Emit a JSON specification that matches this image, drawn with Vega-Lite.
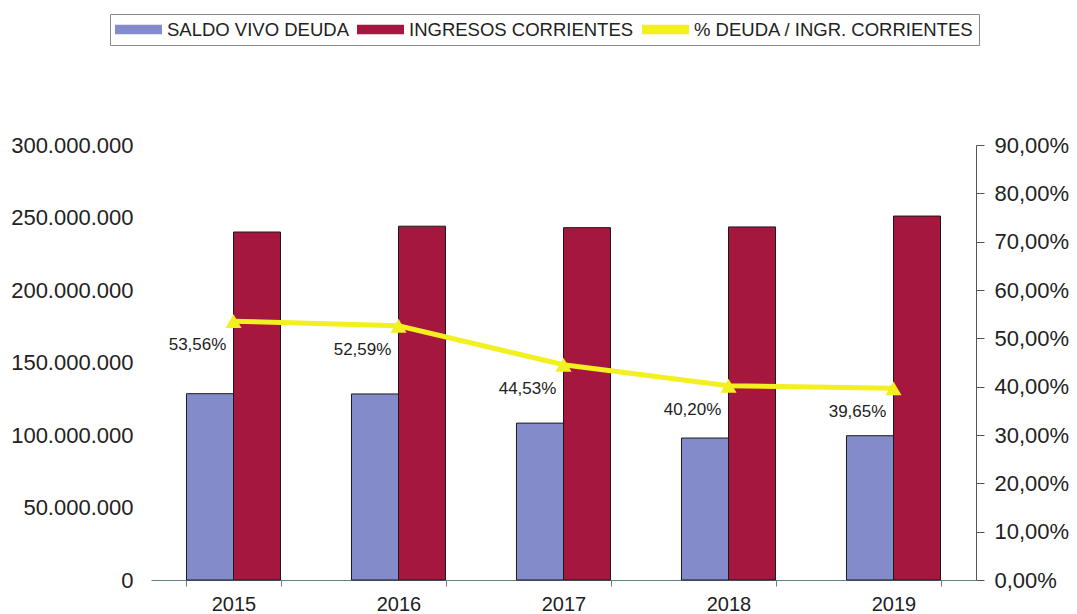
{
  "$schema": "https://vega.github.io/schema/vega-lite/v6.json",
  "autosize": {"type": "none"},
  "width": 825,
  "height": 435,
  "padding": {"left": 151, "top": 145, "right": 101, "bottom": 34},
  "background": "white",
  "config": {
    "locale": {"number": {"decimal": ",", "thousands": ".", "grouping": [3], "currency": ["", " €"]}},
    "view": {"stroke": null},
    "font": "Liberation Sans",
    "axis": {"labelFont": "Liberation Sans", "labelFontSize": 22, "labelColor": "#222", "grid": false, "title": null}
  },
  "datasets": {
    "bars": [
      {"anio": "2015", "serie": "SALDO VIVO DEUDA", "valor": 128500000},
      {"anio": "2015", "serie": "INGRESOS CORRIENTES", "valor": 240000000},
      {"anio": "2016", "serie": "SALDO VIVO DEUDA", "valor": 128300000},
      {"anio": "2016", "serie": "INGRESOS CORRIENTES", "valor": 244000000},
      {"anio": "2017", "serie": "SALDO VIVO DEUDA", "valor": 108200000},
      {"anio": "2017", "serie": "INGRESOS CORRIENTES", "valor": 243000000},
      {"anio": "2018", "serie": "SALDO VIVO DEUDA", "valor": 97900000},
      {"anio": "2018", "serie": "INGRESOS CORRIENTES", "valor": 243500000},
      {"anio": "2019", "serie": "SALDO VIVO DEUDA", "valor": 99500000},
      {"anio": "2019", "serie": "INGRESOS CORRIENTES", "valor": 251000000}
    ],
    "pct": [
      {"anio": "2015", "pct": 0.5356},
      {"anio": "2016", "pct": 0.5259},
      {"anio": "2017", "pct": 0.4453},
      {"anio": "2018", "pct": 0.4020},
      {"anio": "2019", "pct": 0.3965}
    ]
  },
  "encoding": {
    "x": {
      "field": "anio", "type": "nominal",
      "scale": {"paddingInner": 0.43, "paddingOuter": 0.215},
      "axis": {"labelAngle": 0, "labelFontSize": 20, "domainColor": "#5f7f8f", "tickColor": "#5f7f8f", "tickSize": 6, "labelPadding": 8, "tickBand": "extent"}
    }
  },
  "layer": [
    {
      "data": {"name": "bars"},
      "mark": {"type": "bar", "stroke": "#1a1a1a", "strokeWidth": 1},
      "encoding": {
        "xOffset": {"field": "serie", "type": "nominal", "sort": ["SALDO VIVO DEUDA", "INGRESOS CORRIENTES"], "scale": {"paddingInner": 0}},
        "y": {
          "field": "valor", "type": "quantitative",
          "scale": {"domain": [0, 300000000]},
          "axis": {"values": [0, 50000000, 100000000, 150000000, 200000000, 250000000, 300000000], "format": ",d", "domain": false, "ticks": false, "labelPadding": 18}
        },
        "color": {
          "field": "serie", "type": "nominal",
          "scale": {"domain": ["SALDO VIVO DEUDA", "INGRESOS CORRIENTES", "% DEUDA / INGR. CORRIENTES"], "range": ["#838bcb", "#a5173f", "#f2f01e"]},
          "legend": {
            "orient": "none", "legendX": -41, "legendY": -131,
            "direction": "horizontal", "title": null,
            "labelFont": "Liberation Sans", "labelFontSize": 18.5, "labelColor": "#222", "labelLimit": 0,
            "symbolSize": 2209, "symbolType": "M-1,-0.2H1V0.2H-1Z",
            "clipHeight": 21, "labelOffset": 5, "columnPadding": 8,
            "padding": 5, "strokeColor": "#8a8a8a", "fillColor": "white",
            "symbolStrokeWidth": 0,
            "encode": {
              "symbols": {"update": {
                "fill": {"scale": "color", "field": "value"},
                "fillOpacity": {"value": 1},
                "shape": {"signal": "datum.value === '% DEUDA / INGR. CORRIENTES' ? 'M-1,-0.07H1V0.07H-1Z' : 'M-1,-0.2H1V0.2H-1Z'"}
              }}
            }
          }
        }
      }
    },
    {
      "data": {"name": "pct"},
      "layer": [
        {
          "mark": {"type": "line", "strokeWidth": 5},
          "encoding": {
            "y": {
              "field": "pct", "type": "quantitative",
              "scale": {"domain": [0, 0.9]},
              "axis": {"orient": "right", "values": [0, 0.1, 0.2, 0.3, 0.4, 0.5, 0.6, 0.7, 0.8, 0.9], "format": ".2%", "domainColor": "#555", "tickColor": "#555", "tickSize": 8, "labelPadding": 10}
            },
            "color": {"datum": "% DEUDA / INGR. CORRIENTES"}
          }
        },
        {
          "mark": {"type": "point", "shape": "triangle-up", "filled": true, "size": 260, "opacity": 1, "color": "#f2f01e"},
          "encoding": {"y": {"field": "pct", "type": "quantitative"}}
        },
        {
          "mark": {"type": "text", "dx": -36, "dy": 24, "fontSize": 17, "font": "Liberation Sans", "color": "#222"},
          "encoding": {
            "y": {"field": "pct", "type": "quantitative"},
            "text": {"field": "pct", "type": "quantitative", "format": ".2%"}
          }
        }
      ]
    }
  ],
  "resolve": {"scale": {"y": "independent"}}
}
